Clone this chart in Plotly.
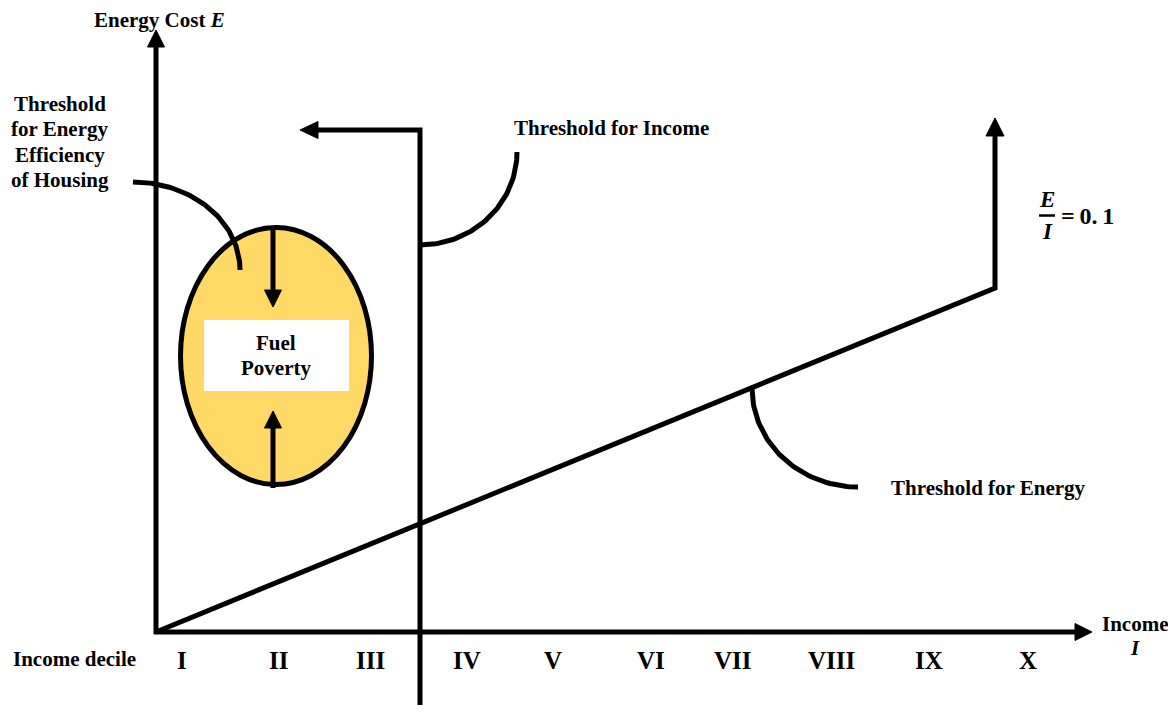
import numpy as np
import plotly.graph_objects as go

# ---------------- data (diagram units: px-like, y grows downward) ----------------
decile_labels = ["I", "II", "III", "IV", "V", "VI", "VII", "VIII", "IX", "X"]
decile_x = [182, 278, 370, 467, 553, 651, 733, 831, 929, 1028]
decile_y = 660

origin = (156, 632)
y_axis_tip = 30
x_axis_tip = 1092

ratio_value = 0.1
ratio_line_end = (995, 288)
ratio_arrow_tip = 118

income_threshold_x = 420
income_threshold_bottom = 713
income_threshold_top = 130
income_arrow_tip_x = 300

ellipse_box = (180.5, 371.5, 227.5, 484.5)   # x0, x1, y0, y1
label_box = (204, 349, 320, 391)
arrow_x = 273
down_arrow = (228, 307)   # start y, tip y
up_arrow = (488, 411)

eff_curve = dict(cx=133, cy=270, rx=107, ry=88)
inc_curve = dict(cx=420, cy=152, rx=97, ry=93)
en_curve = dict(cx=858, cy=388, rx=106, ry=99)

FONT = "Liberation Serif"
LW = 5
BLACK = "#000000"
YELLOW = "#FFD966"
PAGE_MARGIN = 8  # the html body margin

fig = go.Figure()


def line(xs, ys, w=LW):
    fig.add_trace(go.Scatter(x=xs, y=ys, mode="lines", line=dict(color=BLACK, width=w),
                             hoverinfo="skip", showlegend=False))


def head(tip, direction, length=17, half=8.5):
    tx, ty = tip
    if direction == "up":
        xs = [tx, tx - half, tx + half, tx]; ys = [ty, ty + length, ty + length, ty]
    elif direction == "down":
        xs = [tx, tx - half, tx + half, tx]; ys = [ty, ty - length, ty - length, ty]
    elif direction == "right":
        xs = [tx, tx - length, tx - length, tx]; ys = [ty, ty - half, ty + half, ty]
    else:
        xs = [tx, tx + length, tx + length, tx]; ys = [ty, ty - half, ty + half, ty]
    fig.add_trace(go.Scatter(x=xs, y=ys, mode="lines", fill="toself", fillcolor=BLACK,
                             line=dict(color=BLACK, width=1), hoverinfo="skip", showlegend=False))


t = np.linspace(0, np.pi / 2, 60)

# ellipse + label box (shapes, drawn below traces)
fig.add_shape(type="circle", xref="x", yref="y", x0=ellipse_box[0], x1=ellipse_box[1],
              y0=ellipse_box[2], y1=ellipse_box[3], fillcolor=YELLOW,
              line=dict(color=BLACK, width=LW), layer="below")
fig.add_shape(type="rect", xref="x", yref="y", x0=label_box[0], x1=label_box[1],
              y0=label_box[2], y1=label_box[3], fillcolor="white", line=dict(width=0),
              layer="below")

# axes
line([origin[0], origin[0]], [origin[1] + 2, y_axis_tip + 15])
head((origin[0], y_axis_tip), "up")
line([origin[0] - 2, x_axis_tip - 15], [origin[1], origin[1]])
head((x_axis_tip, origin[1]), "right")

# E/I = 0.1 line
line([origin[0], ratio_line_end[0], ratio_line_end[0]],
     [origin[1], ratio_line_end[1], ratio_arrow_tip + 15])
head((ratio_line_end[0], ratio_arrow_tip), "up", length=18, half=9)

# income threshold
line([income_threshold_x, income_threshold_x, income_arrow_tip_x + 15],
     [income_threshold_bottom, income_threshold_top, income_threshold_top])
head((income_arrow_tip_x, income_threshold_top), "left", length=18, half=8.5)

# arrows in ellipse
line([arrow_x, arrow_x], [down_arrow[0], down_arrow[1] - 15])
head((arrow_x, down_arrow[1]), "down")
line([arrow_x, arrow_x], [up_arrow[0], up_arrow[1] + 15])
head((arrow_x, up_arrow[1]), "up")

# curves
c = eff_curve
line(c["cx"] + c["rx"] * np.sin(t), c["cy"] - c["ry"] * np.cos(t))
c = inc_curve
line(c["cx"] + c["rx"] * np.sin(t), c["cy"] + c["ry"] * np.cos(t))
c = en_curve
line(c["cx"] - c["rx"] * np.cos(t), c["cy"] + c["ry"] * np.sin(t))

# ---------------- text ----------------
def text(x, y, s, size=21, xanchor="center", italic=False):
    fig.add_annotation(x=x, y=y, xref="x", yref="y", text=s, showarrow=False,
                       xanchor=xanchor, yanchor="middle",
                       font=dict(family=FONT, size=size, color=BLACK,
                                 style="italic" if italic else "normal", weight="bold"))


text(92, 20, "Energy Cost <i>E</i>", xanchor="left")
for i, s in enumerate(["Threshold", "for Energy", "Efficiency", "of Housing"]):
    text(60, 104 + 25.3 * i, s)
text(512, 128, "Threshold for Income", xanchor="left")
text(889, 488, "Threshold for Energy", xanchor="left")
text(276, 343, "Fuel")
text(276, 368, "Poverty")
text(74, 659, "Income decile")
text(1135, 624, "Income")
text(1135, 648, "<i>I</i>")
for lab, xx in zip(decile_labels, decile_x):
    text(xx, decile_y, lab, size=25)

# E / I = 0.1
text(1047, 199, "E", size=23, italic=True)
text(1047, 231, "I", size=23, italic=True)
line([1039, 1055], [215.5, 215.5], w=2.5)
text(1059, 216, "=\u2009" + str(ratio_value).replace(".", ".\u2009"), size=24, xanchor="left")

W, H = 1176, 713
fig.update_layout(
    width=W - 2 * PAGE_MARGIN, height=H - 2 * PAGE_MARGIN,
    margin=dict(l=0, r=0, t=0, b=0),
    paper_bgcolor="white", plot_bgcolor="white",
    xaxis=dict(range=[PAGE_MARGIN, W - PAGE_MARGIN], visible=False, fixedrange=True),
    yaxis=dict(range=[H - PAGE_MARGIN, PAGE_MARGIN], visible=False, fixedrange=True),
    showlegend=False,
)
fig.write_html("out.html")
